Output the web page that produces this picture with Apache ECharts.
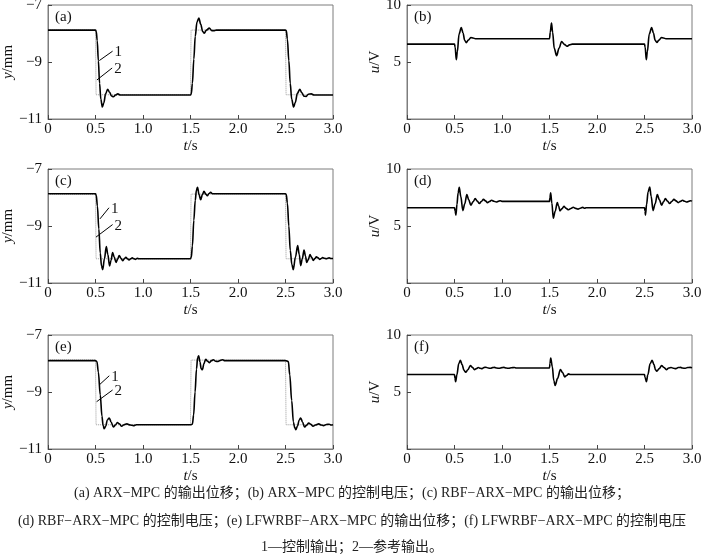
<!DOCTYPE html>
<html>
<head>
<meta charset="utf-8">
<script src="https://cdn.jsdelivr.net/npm/echarts@6/dist/echarts.min.js"></script>
<style>
html, body { margin: 0; padding: 0; background: #fff; }
#main { width: 704px; height: 558px; }
</style>
</head>
<body>
<div id="main"></div>
<script>
// 坐标刻度
const tTicks = [0, 0.5, 1.0, 1.5, 2.0, 2.5, 3.0];
const yTicks = [-11, -9, -7];
const uTicks = [0, 5, 10];

// 曲线2：参考输出 (mm)
const refTrack = [[0,-7.88],[0.5,-7.88],[0.506,-10.15],[1.5,-10.15],[1.506,-7.88],[2.5,-7.88],[2.506,-10.15],[3,-10.15]];

// (a) ARX-MPC 输出位移
const outA = [[0,-7.88],[0.5,-7.88],[0.508,-7.93],[0.518,-8.25],[0.53,-8.95],[0.543,-9.75],[0.556,-10.3],[0.572,-10.58],[0.588,-10.43],[0.606,-10.12],[0.628,-9.96],[0.648,-10.06],[0.668,-10.19],[0.688,-10.22],[0.71,-10.16],[0.735,-10.12],[0.76,-10.16],[1.5,-10.16],
  [1.508,-10.12],[1.52,-9.75],[1.535,-8.9],[1.55,-8.1],[1.568,-7.6],[1.588,-7.46],[1.608,-7.68],[1.628,-7.93],[1.645,-7.99],[1.668,-7.88],[1.698,-7.81],[1.725,-7.9],[1.752,-7.9],[1.775,-7.88],[2.5,-7.88],
  [2.508,-7.9],[2.52,-8.2],[2.535,-8.95],[2.55,-9.75],[2.565,-10.3],[2.585,-10.58],[2.603,-10.42],[2.625,-10.1],[2.65,-9.96],[2.672,-10.08],[2.695,-10.2],[2.716,-10.21],[2.74,-10.13],[2.772,-10.12],[2.8,-10.16],[3,-10.16]];

// (b) ARX-MPC 控制电压
const uB = [[0,6.57],[0.5,6.57],[0.507,6.3],[0.519,5.2],[0.53,5.9],[0.548,7.45],[0.571,8.02],[0.59,7.55],[0.607,6.9],[0.624,6.7],[0.645,6.92],[0.672,7.14],[0.695,7.11],[0.72,7.04],[1.5,7.04],
  [1.508,7.6],[1.521,8.42],[1.533,7.6],[1.55,6.2],[1.575,5.55],[1.6,6.2],[1.628,6.8],[1.655,6.55],[1.685,6.38],[1.71,6.5],[1.74,6.57],[2.5,6.57],
  [2.507,6.3],[2.519,5.2],[2.53,5.9],[2.55,7.45],[2.575,8.02],[2.594,7.55],[2.612,6.9],[2.63,6.72],[2.652,6.92],[2.678,7.14],[2.7,7.11],[2.725,7.04],[3,7.04]];

// (c) RBF-ARX-MPC 输出位移
const outC = [[0,-7.87],[0.5,-7.87],[0.508,-7.92],[0.52,-8.3],[0.535,-9.1],[0.55,-9.95],[0.563,-10.4],[0.576,-10.53],[0.594,-10.15],[0.614,-9.72],[0.63,-10.0],[0.648,-10.4],[0.664,-10.2],[0.68,-9.93],[0.698,-10.1],[0.716,-10.28],[0.733,-10.16],[0.75,-10.04],[0.768,-10.13],[0.786,-10.22],[0.803,-10.15],[0.82,-10.1],[0.836,-10.15],[0.853,-10.19],[0.87,-10.15],[0.887,-10.12],[0.905,-10.15],[0.922,-10.17],[0.94,-10.13],[0.955,-10.15],[1.5,-10.15],
  [1.508,-10.1],[1.52,-9.7],[1.535,-8.8],[1.55,-8.1],[1.562,-7.75],[1.574,-7.64],[1.59,-7.9],[1.607,-8.08],[1.625,-7.9],[1.642,-7.78],[1.66,-7.88],[1.677,-7.94],[1.695,-7.86],[1.712,-7.82],[1.73,-7.87],[1.75,-7.87],[2.5,-7.87],
  [2.508,-7.9],[2.52,-8.2],[2.535,-9.0],[2.55,-9.85],[2.567,-10.35],[2.582,-10.53],[2.604,-10.1],[2.628,-9.69],[2.645,-10.0],[2.66,-10.39],[2.677,-10.15],[2.695,-9.84],[2.71,-10.05],[2.723,-10.28],[2.74,-10.18],[2.758,-10.0],[2.775,-10.1],[2.793,-10.21],[2.81,-10.14],[2.825,-10.08],[2.843,-10.12],[2.86,-10.17],[2.877,-10.14],[2.89,-10.11],[2.91,-10.13],[2.93,-10.15],[2.945,-10.13],[2.96,-10.12],[2.98,-10.14],[3,-10.14]];

// (d) RBF-ARX-MPC 控制电压
const uD = [[0,6.6],[0.5,6.6],[0.507,6.3],[0.515,5.95],[0.526,6.9],[0.538,7.9],[0.55,8.4],[0.566,7.6],[0.588,6.35],[0.608,6.95],[0.63,7.75],[0.65,7.3],[0.672,6.82],[0.695,7.12],[0.718,7.4],[0.74,7.18],[0.762,6.97],[0.783,7.15],[0.805,7.34],[0.826,7.2],[0.847,7.05],[0.868,7.15],[0.89,7.26],[0.915,7.17],[0.94,7.1],[0.96,7.16],[0.98,7.22],[1.0,7.16],[1.5,7.16],
  [1.505,7.5],[1.512,7.92],[1.525,7.0],[1.54,5.68],[1.56,6.3],[1.582,7.05],[1.596,6.75],[1.61,6.33],[1.63,6.5],[1.652,6.72],[1.675,6.55],[1.7,6.42],[1.725,6.53],[1.75,6.64],[1.775,6.55],[1.8,6.48],[1.825,6.56],[1.85,6.63],[1.87,6.56],[1.885,6.6],[2.5,6.6],
  [2.506,6.3],[2.51,5.95],[2.522,6.9],[2.538,8.0],[2.555,8.42],[2.57,7.6],[2.59,6.35],[2.612,6.95],[2.635,7.75],[2.657,7.3],[2.68,6.82],[2.7,7.12],[2.72,7.4],[2.742,7.18],[2.765,6.97],[2.787,7.15],[2.81,7.34],[2.832,7.2],[2.855,7.05],[2.878,7.16],[2.9,7.26],[2.922,7.17],[2.945,7.1],[2.965,7.16],[2.985,7.22],[3,7.18]];

// (e) LFWRBF-ARX-MPC 输出位移
const outE = [[0,-7.9],[0.5,-7.9],[0.515,-7.93],[0.53,-8.3],[0.55,-9.1],[0.568,-9.85],[0.58,-10.18],[0.592,-10.29],[0.607,-10.2],[0.625,-9.98],[0.645,-9.91],[0.665,-10.06],[0.688,-10.23],[0.71,-10.16],[0.73,-10.07],[0.752,-10.12],[0.775,-10.2],[0.8,-10.15],[0.83,-10.12],[0.865,-10.16],[0.9,-10.18],[0.93,-10.15],[0.95,-10.15],[1.5,-10.15],
  [1.52,-10.13],[1.533,-9.8],[1.548,-9.0],[1.563,-8.2],[1.575,-7.8],[1.586,-7.73],[1.6,-7.95],[1.612,-8.18],[1.625,-8.22],[1.642,-8.0],[1.66,-7.85],[1.68,-7.92],[1.7,-7.97],[1.72,-7.9],[1.74,-7.87],[1.765,-7.92],[1.79,-7.93],[1.815,-7.89],[1.84,-7.87],[1.86,-7.9],[2.5,-7.9],
  [2.53,-7.93],[2.545,-8.4],[2.565,-9.3],[2.583,-10.05],[2.597,-10.25],[2.61,-10.32],[2.625,-10.2],[2.645,-9.98],[2.66,-9.91],[2.68,-10.06],[2.7,-10.23],[2.72,-10.17],[2.745,-10.09],[2.765,-10.13],[2.79,-10.2],[2.815,-10.16],[2.85,-10.12],[2.875,-10.16],[2.9,-10.18],[2.93,-10.14],[2.96,-10.13],[2.98,-10.16],[3,-10.15]];

// (f) LFWRBF-ARX-MPC 控制电压
const uF = [[0,6.53],[0.5,6.53],[0.505,6.2],[0.512,5.9],[0.525,6.5],[0.545,7.5],[0.562,7.77],[0.58,7.4],[0.6,6.9],[0.618,6.73],[0.64,6.95],[0.667,7.31],[0.69,7.15],[0.71,6.96],[0.73,7.05],[0.75,7.15],[0.77,7.08],[0.79,7.05],[0.81,7.15],[0.83,7.17],[0.855,7.1],[0.88,7.08],[0.9,7.14],[0.92,7.16],[0.945,7.1],[0.97,7.08],[1.0,7.14],[1.02,7.16],[1.045,7.1],[1.07,7.08],[1.1,7.13],[1.13,7.15],[1.15,7.11],[1.5,7.11],
  [1.505,7.5],[1.513,7.98],[1.53,7.2],[1.545,6.0],[1.56,5.58],[1.585,6.2],[1.615,6.96],[1.638,6.7],[1.66,6.33],[1.68,6.45],[1.7,6.59],[1.72,6.53],[2.5,6.53],
  [2.505,6.3],[2.52,5.9],[2.535,6.5],[2.56,7.5],[2.58,7.77],[2.6,7.4],[2.615,6.95],[2.63,6.82],[2.655,7.05],[2.68,7.31],[2.705,7.15],[2.73,6.96],[2.755,7.1],[2.78,7.15],[2.805,7.08],[2.83,7.05],[2.855,7.15],[2.88,7.16],[2.9,7.1],[2.93,7.08],[2.955,7.15],[2.98,7.16],[3,7.12]];

// 图注
const panelTags = ['(a)', '(b)', '(c)', '(d)', '(e)', '(f)'];
const captionLines = [
  '(a) ARX\u2212MPC 的输出位移；(b) ARX\u2212MPC 的控制电压；(c) RBF\u2212ARX\u2212MPC 的输出位移；',
  '(d) RBF\u2212ARX\u2212MPC 的控制电压；(e) LFWRBF\u2212ARX\u2212MPC 的输出位移；(f) LFWRBF\u2212ARX\u2212MPC 的控制电压',
  '1\u2014控制输出；2\u2014参考输出。'
];

const FONT = '"Liberation Serif", "Times New Roman", "Noto Sans CJK SC", serif';
const INK = '#111';
const FRAME = '#7d7d7d';

// 子图位置
const boxes = [[48, 5], [407, 5], [48, 169], [407, 169], [48, 335], [407, 335]];
const BOX_W = 285, BOX_H = 114;
const outputs = [outA, uB, outC, uD, outE, uF];

// 左列 1/2 引线（数据坐标）
const leaders = {
  0: [{ text: '1', from: [0.54, -8.95], to: [0.68, -8.62] }, { text: '2', from: [0.515, -9.63], to: [0.675, -9.21] }],
  2: [{ text: '1', from: [0.547, -8.75], to: [0.642, -8.36] }, { text: '2', from: [0.505, -9.39], to: [0.68, -8.95] }],
  4: [{ text: '1', from: [0.54, -8.75], to: [0.645, -8.43] }, { text: '2', from: [0.512, -9.34], to: [0.68, -8.93] }]
};

const minus = v => String(v).replace('-', '\u2212');
const italicRich = { i: { fontStyle: 'italic', fontFamily: FONT, fontSize: 15, color: INK } };

const chart = echarts.init(document.getElementById('main'));

const grid = boxes.map(b => ({
  left: b[0], top: b[1], width: BOX_W, height: BOX_H,
  show: true, borderColor: FRAME, borderWidth: 1, backgroundColor: 'transparent',
  containLabel: false, outerBoundsMode: 'none'
}));

const xAxis = boxes.map((b, i) => ({
  type: 'value', gridIndex: i,
  min: tTicks[0], max: tTicks[tTicks.length - 1], interval: tTicks[1] - tTicks[0],
  name: '{i|t}/s', nameLocation: 'middle', nameGap: 20,
  nameTextStyle: { fontFamily: FONT, fontSize: 15, color: INK, rich: italicRich },
  axisLine: { show: true, lineStyle: { color: FRAME } },
  axisTick: { show: true, inside: true, length: 4, lineStyle: { color: '#444' } },
  axisLabel: { fontFamily: FONT, fontSize: 15, color: INK, margin: 3, formatter: v => v === 0 ? '0' : v.toFixed(1) },
  splitLine: { show: false }
}));

const yAxis = boxes.map((b, i) => {
  const left = i % 2 === 0;
  const ticks = left ? yTicks : uTicks;
  return {
    type: 'value', gridIndex: i,
    min: ticks[0], max: ticks[ticks.length - 1], interval: ticks[1] - ticks[0],
    name: left ? '{i|y}/mm' : '{i|u}/V', nameLocation: 'middle', nameGap: left ? 25 : 23,
    nameTextStyle: { fontFamily: FONT, fontSize: 15, color: INK, rich: italicRich },
    axisLine: { show: true, lineStyle: { color: FRAME } },
    axisTick: { show: true, inside: true, length: 4, lineStyle: { color: '#444' } },
    axisLabel: {
      fontFamily: FONT, fontSize: 15, color: INK, margin: 6,
      formatter: v => (!left && v === 0) ? '' : minus(v)
    },
    splitLine: { show: false }
  };
});

const series = [];
boxes.forEach((b, i) => {
  if (i % 2 === 0) {
    series.push({
      type: 'line', xAxisIndex: i, yAxisIndex: i, data: refTrack,
      showSymbol: false, silent: true, z: 2,
      lineStyle: { color: '#9a9a9a', width: 1, type: [1, 1] }
    });
  }
  series.push({
    type: 'line', xAxisIndex: i, yAxisIndex: i, data: outputs[i],
    showSymbol: false, silent: true, z: 3,
    smooth: 0.35, smoothMonotone: 'x',
    lineStyle: { color: '#000', width: 1.6 }
  });
});

chart.setOption({
  backgroundColor: '#fff',
  animation: false,
  grid: grid,
  xAxis: xAxis,
  yAxis: yAxis,
  series: series
});

// 标签、引线与图注
const graphic = [];
boxes.forEach((b, i) => {
  graphic.push({
    type: 'text', left: b[0] + 7, top: b[1] + 5, silent: true,
    style: { text: panelTags[i], fontFamily: FONT, fontSize: 15, fill: INK }
  });
  (leaders[i] || []).forEach(ld => {
    const p1 = chart.convertToPixel({ gridIndex: i }, ld.from);
    const p2 = chart.convertToPixel({ gridIndex: i }, ld.to);
    graphic.push({
      type: 'line', silent: true, z: 10,
      shape: { x1: p1[0], y1: p1[1], x2: p2[0], y2: p2[1] },
      style: { stroke: '#000', lineWidth: 1 }
    });
    graphic.push({
      type: 'text', silent: true, z: 10, x: p2[0] + 2, y: p2[1] + 1,
      style: { text: ld.text, fontFamily: FONT, fontSize: 15, fill: INK, align: 'left', verticalAlign: 'middle' }
    });
  });
});
const captionY = [493, 521, 547];
captionLines.forEach((line, k) => {
  graphic.push({
    type: 'text', silent: true, x: 352, y: captionY[k],
    style: { text: line, fontFamily: FONT, fontSize: 14, fill: '#222', align: 'center', verticalAlign: 'middle' }
  });
});
chart.setOption({ graphic: graphic });
</script>
</body>
</html>
